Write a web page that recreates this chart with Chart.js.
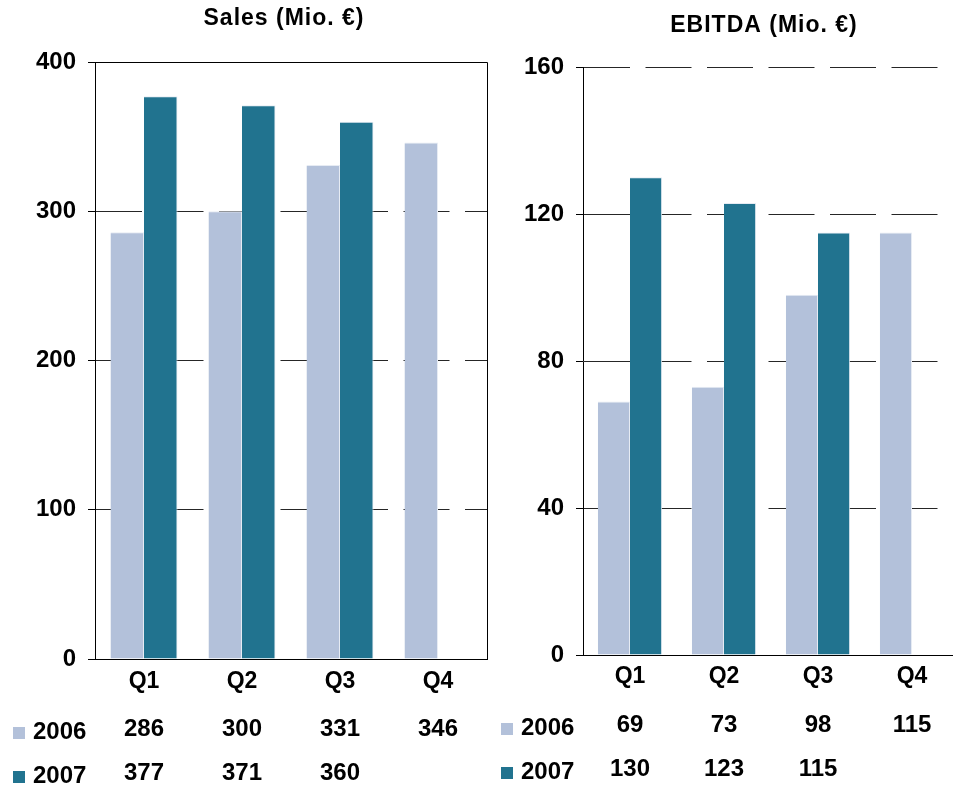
<!DOCTYPE html>
<html>
<head>
<meta charset="utf-8">
<title>Sales and EBITDA by quarter</title>
<script src="https://cdn.jsdelivr.net/npm/chart.js@4/dist/chart.umd.min.js"></script>
<style>
  html, body { margin: 0; padding: 0; background: #fff; overflow: hidden; }
  body { width: 953px; height: 787px; position: relative; }
  .panel { position: absolute; top: 0; }
  #salesBox { left: 0; width: 490px; height: 787px; }
  #ebitdaBox { left: 490px; width: 480px; height: 787px; }
</style>
</head>
<body>
<div class="panel" id="salesBox"><canvas id="sales" width="490" height="787"></canvas></div>
<div class="panel" id="ebitdaBox"><canvas id="ebitda" width="480" height="787"></canvas></div>
<script>
// Quarterly figures, 2006 vs 2007
const quarters = ['Q1', 'Q2', 'Q3', 'Q4'];
const years = ['2006', '2007'];
const sales2006 = [286, 300, 331, 346];
const sales2007 = [377, 371, 360, null];
const ebitda2006 = [69, 73, 98, 115];
const ebitda2007 = [130, 123, 115, null];
const salesTicks = [0, 100, 200, 300, 400];
const ebitdaTicks = [0, 40, 80, 120, 160];

const FONT = '"Liberation Sans", Arial, Helvetica, sans-serif';
const COLOR_2006 = '#b3c1da';
const COLOR_2007 = '#21738f';

// Title above the plot, value table with legend keys below it, optional frame
const titleAndTable = {
  id: 'titleAndTable',
  afterDraw(chart, args, opts) {
    const { ctx, chartArea: a, scales: { x } } = chart;
    ctx.save();
    ctx.fillStyle = '#000';
    ctx.textBaseline = 'middle';
    ctx.textAlign = 'center';
    ctx.font = 'bold 23px ' + FONT;
    ctx.letterSpacing = '1px';
    ctx.fillText(opts.title, (a.left + a.right) / 2 - 7, a.top - opts.titleGap);
    ctx.letterSpacing = '0px';

    chart.data.datasets.forEach((ds, r) => {
      const yVal = a.bottom + 70 + r * 44;
      ctx.fillStyle = ds.backgroundColor;
      ctx.fillRect(a.left - 82, yVal - 2, 12, 12);
      ctx.fillStyle = '#000';
      ctx.font = 'bold 24px ' + FONT;
      ctx.textAlign = 'left';
      ctx.fillText(ds.label, a.left - 62, yVal + 3);
      ctx.textAlign = 'center';
      ds.data.forEach((v, i) => {
        if (v !== null && v !== undefined) {
          ctx.fillText(String(v), x.getPixelForValue(i), yVal);
        }
      });
    });

    if (opts.frame) {
      const top = Math.round(a.top - 0.5) + 0.5;
      const right = Math.round(a.right - 0.5) + 0.5;
      const bottom = Math.round(a.bottom - 0.5) + 0.5;
      ctx.strokeStyle = '#000';
      ctx.lineWidth = 1;
      ctx.beginPath();
      ctx.moveTo(a.left, top);
      ctx.lineTo(right, top);
      ctx.lineTo(right, bottom);
      ctx.stroke();
    }
    ctx.restore();
  }
};

function makeChart(canvasId, title, d2006, d2007, tickValues, axisWidth, pad, frame, xPad, titleGap) {
  return new Chart(document.getElementById(canvasId), {
    type: 'bar',
    data: {
      labels: quarters,
      datasets: [
        {
          label: years[0], data: d2006, backgroundColor: COLOR_2006,
          borderColor: '#e6ebf3', borderWidth: { top: 1, right: 1, left: 0, bottom: 0 }, borderSkipped: false
        },
        {
          label: years[1], data: d2007, backgroundColor: COLOR_2007,
          borderColor: '#e6ebf3', borderWidth: { top: 1, right: 1, left: 0, bottom: 0 }, borderSkipped: false
        }
      ]
    },
    options: {
      responsive: false,
      animation: false,
      devicePixelRatio: 1,
      layout: { padding: pad },
      datasets: { bar: { categoryPercentage: 0.684, barPercentage: 1 } },
      plugins: {
        legend: { display: false },
        title: { display: false },
        tooltip: { enabled: false },
        titleAndTable: { title: title, frame: frame, titleGap: titleGap }
      },
      scales: {
        x: {
          grid: { display: false, drawTicks: false },
          border: { display: true, color: '#000', width: 1 },
          ticks: { color: '#000', font: { family: FONT, size: 23, weight: 'bold' }, padding: xPad },
          afterFit(axis) { axis.height = 40; }
        },
        y: {
          min: tickValues[0],
          max: tickValues[tickValues.length - 1],
          afterBuildTicks(axis) { axis.ticks = tickValues.map(v => ({ value: v })); },
          grid: { color: '#262626', lineWidth: 1, drawTicks: true, tickLength: 7, tickColor: '#000' },
          border: { display: true, color: '#000', width: 1, dash: [46, 15.5] },
          ticks: { color: '#000', font: { family: FONT, size: 24, weight: 'bold' }, padding: 12 },
          afterFit(axis) { axis.width = axisWidth; }
        }
      }
    },
    plugins: [titleAndTable]
  });
}

makeChart('sales', 'Sales (Mio. €)', sales2006, sales2007, salesTicks, 95,
  { top: 62, right: 3, bottom: 88, left: 0 }, true, 9, 43.5);
makeChart('ebitda', 'EBITDA (Mio. €)', ebitda2006, ebitda2007, ebitdaTicks, 93,
  { top: 67, right: 11, bottom: 92, left: 0 }, false, 8, 41);
</script>
</body>
</html>
